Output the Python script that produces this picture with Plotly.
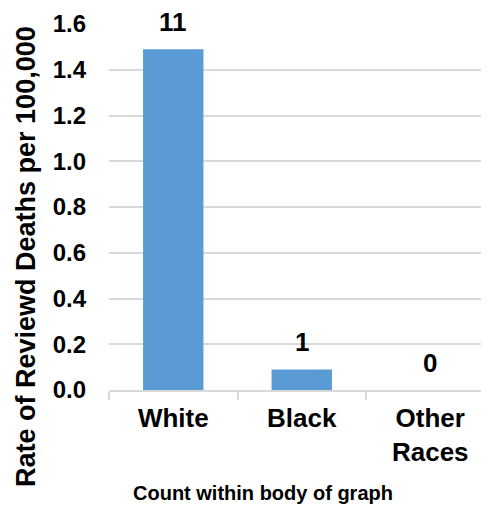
import plotly.graph_objects as go

categories = ["White", "Black", "Other<br>Races"]
rates = [1.49, 0.09, 0.0]
counts = [11, 1, 0]

y_title = "Rate of Reviewd Deaths per 100,000"
x_title = "Count within body of graph"

FONT = "Liberation Sans, Arial, sans-serif"
BAR = "#5B9BD5"
GRID = "#d9d9d9"

# page body has an 8px margin; lay the figure out in page coordinates minus 8
OFF = 8
W, H = 489 - OFF, 507 - OFF
L, T, B = 109 - OFF, 24 - OFF, H - (390 - OFF)
PW, PH = W - L, H - T - B

fig = go.Figure()
fig.add_trace(go.Bar(x=categories, y=rates, marker=dict(color=BAR, line=dict(width=0)),
                     width=0.47, hoverinfo="skip"))

for c, r, n in zip(categories, rates, counts):
    fig.add_annotation(x=c, y=r, text=str(n), showarrow=False, yanchor="bottom",
                       yshift=11, borderpad=0,
                       font=dict(family=FONT, size=26, color="black", weight="bold"))

fig.add_annotation(xref="paper", yref="paper", x=-(109 - 26) / PW, y=(390 - 257) / PH,
                   text=y_title, textangle=-90, showarrow=False,
                   xanchor="center", yanchor="middle",
                   font=dict(family=FONT, size=27, color="black", weight="bold"))
fig.add_annotation(xref="paper", yref="paper", x=(263 - 109) / PW, y=-(493 - 390) / PH,
                   text=x_title, showarrow=False, xanchor="center", yanchor="middle",
                   font=dict(family=FONT, size=20, color="black", weight="bold"))

fig.update_layout(
    width=W, height=H,
    margin=dict(l=L, r=0, t=T, b=B, autoexpand=False),
    paper_bgcolor="white", plot_bgcolor="white",
    showlegend=False,
    xaxis=dict(range=[-0.5, 2.457], showline=True, linecolor=GRID, linewidth=2,
               ticks="outside", tickson="boundaries", ticklen=8, tickcolor=GRID, tickwidth=2,
               showgrid=False, ticklabelstandoff=4, automargin=False,
               tickfont=dict(family=FONT, size=26, color="black", weight="bold")),
    yaxis=dict(range=[0, 1.6], dtick=0.2, tickformat=".1f", showgrid=True, gridcolor=GRID,
               gridwidth=2, zeroline=False, showline=False, ticks="", ticklabelstandoff=22,
               automargin=False,
               tickfont=dict(family=FONT, size=24, color="black", weight="bold")),
)

fig.write_html("out.html")
